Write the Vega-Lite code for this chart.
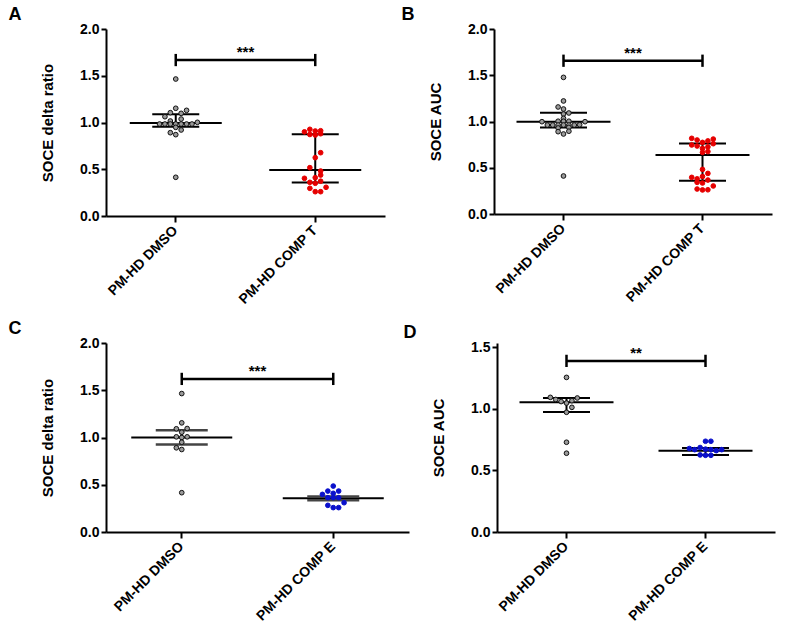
{
  "$schema": "https://vega.github.io/schema/vega-lite/v6.json",
  "background": "white",
  "padding": {"left": 8, "top": 6, "right": 5, "bottom": 5},
  "config": {
    "font": "Liberation Sans",
    "view": {"stroke": null},
    "axis": {
      "grid": false,
      "domainColor": "black",
      "domainWidth": 2,
      "tickColor": "black",
      "tickWidth": 2,
      "tickSize": 5,
      "labelColor": "black",
      "labelFont": "Liberation Sans",
      "labelFontWeight": "bold",
      "labelFontSize": 14,
      "labelPadding": 2,
      "titleColor": "black",
      "titleFont": "Liberation Sans",
      "titleFontWeight": "bold",
      "titleFontSize": 15,
      "titlePadding": 24
    },
    "axisX": {"labelAngle": -45, "labelAlign": "right", "labelBaseline": "middle", "tickSize": 6, "labelPadding": 6, "title": null},
    "title": {"anchor": "start", "frame": "bounds", "fontSize": 18, "fontWeight": "bold", "color": "black", "font": "Liberation Sans", "offset": -2}
  },
  "datasets": {
    "a_pts": [
      {"group": "PM-HD DMSO", "value": 1.465, "slot": 0},
      {"group": "PM-HD DMSO", "value": 1.152, "slot": 0},
      {"group": "PM-HD DMSO", "value": 1.130, "slot": 2},
      {"group": "PM-HD DMSO", "value": 1.105, "slot": -1},
      {"group": "PM-HD DMSO", "value": 1.098, "slot": 1},
      {"group": "PM-HD DMSO", "value": 1.062, "slot": -2},
      {"group": "PM-HD DMSO", "value": 1.037, "slot": 1},
      {"group": "PM-HD DMSO", "value": 1.016, "slot": -1},
      {"group": "PM-HD DMSO", "value": 0.984, "slot": -3},
      {"group": "PM-HD DMSO", "value": 0.984, "slot": -2},
      {"group": "PM-HD DMSO", "value": 0.984, "slot": -1},
      {"group": "PM-HD DMSO", "value": 0.984, "slot": 0},
      {"group": "PM-HD DMSO", "value": 0.984, "slot": 1},
      {"group": "PM-HD DMSO", "value": 0.984, "slot": 2},
      {"group": "PM-HD DMSO", "value": 0.984, "slot": 3},
      {"group": "PM-HD DMSO", "value": 1.002, "slot": 4},
      {"group": "PM-HD DMSO", "value": 0.948, "slot": 0},
      {"group": "PM-HD DMSO", "value": 0.920, "slot": 1},
      {"group": "PM-HD DMSO", "value": 0.891, "slot": -1},
      {"group": "PM-HD DMSO", "value": 0.870, "slot": 0},
      {"group": "PM-HD DMSO", "value": 0.414, "slot": 0},
      {"group": "PM-HD COMP T", "value": 0.900, "slot": -2},
      {"group": "PM-HD COMP T", "value": 0.927, "slot": -1},
      {"group": "PM-HD COMP T", "value": 0.909, "slot": 0},
      {"group": "PM-HD COMP T", "value": 0.912, "slot": 1},
      {"group": "PM-HD COMP T", "value": 0.872, "slot": -1},
      {"group": "PM-HD COMP T", "value": 0.866, "slot": 0},
      {"group": "PM-HD COMP T", "value": 0.880, "slot": 1},
      {"group": "PM-HD COMP T", "value": 0.677, "slot": 1},
      {"group": "PM-HD COMP T", "value": 0.624, "slot": 0},
      {"group": "PM-HD COMP T", "value": 0.517, "slot": -1},
      {"group": "PM-HD COMP T", "value": 0.481, "slot": 1},
      {"group": "PM-HD COMP T", "value": 0.438, "slot": 1},
      {"group": "PM-HD COMP T", "value": 0.403, "slot": -2},
      {"group": "PM-HD COMP T", "value": 0.410, "slot": 0},
      {"group": "PM-HD COMP T", "value": 0.360, "slot": -1},
      {"group": "PM-HD COMP T", "value": 0.350, "slot": 0},
      {"group": "PM-HD COMP T", "value": 0.372, "slot": 1},
      {"group": "PM-HD COMP T", "value": 0.296, "slot": -1},
      {"group": "PM-HD COMP T", "value": 0.307, "slot": 2},
      {"group": "PM-HD COMP T", "value": 0.260, "slot": 0},
      {"group": "PM-HD COMP T", "value": 0.260, "slot": 1}
    ],
    "a_bars": [
      {"group": "PM-HD DMSO", "center": 0.995, "lo": 0.955, "hi": 1.088},
      {"group": "PM-HD COMP T", "center": 0.492, "lo": 0.357, "hi": 0.873}
    ],
    "a_sig": [
      {"group": "PM-HD DMSO", "value": 1.668},
      {"group": "PM-HD COMP T", "value": 1.668}
    ],
    "a_star": [{"value": 1.668, "label": "***"}],
    "b_pts": [
      {"group": "PM-HD DMSO", "value": 1.477, "slot": 0},
      {"group": "PM-HD DMSO", "value": 1.222, "slot": 0},
      {"group": "PM-HD DMSO", "value": 1.157, "slot": -1},
      {"group": "PM-HD DMSO", "value": 1.135, "slot": 0},
      {"group": "PM-HD DMSO", "value": 1.092, "slot": 1},
      {"group": "PM-HD DMSO", "value": 1.081, "slot": 0},
      {"group": "PM-HD DMSO", "value": 1.034, "slot": 0},
      {"group": "PM-HD DMSO", "value": 0.998, "slot": -4},
      {"group": "PM-HD DMSO", "value": 1.003, "slot": -1},
      {"group": "PM-HD DMSO", "value": 1.003, "slot": 0},
      {"group": "PM-HD DMSO", "value": 1.003, "slot": 1},
      {"group": "PM-HD DMSO", "value": 0.998, "slot": 4},
      {"group": "PM-HD DMSO", "value": 0.962, "slot": -3},
      {"group": "PM-HD DMSO", "value": 0.962, "slot": -2},
      {"group": "PM-HD DMSO", "value": 0.962, "slot": -1},
      {"group": "PM-HD DMSO", "value": 0.962, "slot": 0},
      {"group": "PM-HD DMSO", "value": 0.962, "slot": 1},
      {"group": "PM-HD DMSO", "value": 0.962, "slot": 2},
      {"group": "PM-HD DMSO", "value": 0.965, "slot": 3},
      {"group": "PM-HD DMSO", "value": 0.930, "slot": -1},
      {"group": "PM-HD DMSO", "value": 0.936, "slot": 1},
      {"group": "PM-HD DMSO", "value": 0.890, "slot": -1},
      {"group": "PM-HD DMSO", "value": 0.895, "slot": 1},
      {"group": "PM-HD DMSO", "value": 0.865, "slot": 0},
      {"group": "PM-HD DMSO", "value": 0.411, "slot": 0},
      {"group": "PM-HD COMP T", "value": 0.818, "slot": -2},
      {"group": "PM-HD COMP T", "value": 0.800, "slot": -1},
      {"group": "PM-HD COMP T", "value": 0.774, "slot": 0},
      {"group": "PM-HD COMP T", "value": 0.790, "slot": 1},
      {"group": "PM-HD COMP T", "value": 0.810, "slot": 2},
      {"group": "PM-HD COMP T", "value": 0.746, "slot": -2},
      {"group": "PM-HD COMP T", "value": 0.735, "slot": -1},
      {"group": "PM-HD COMP T", "value": 0.709, "slot": 0},
      {"group": "PM-HD COMP T", "value": 0.725, "slot": 1},
      {"group": "PM-HD COMP T", "value": 0.760, "slot": 2},
      {"group": "PM-HD COMP T", "value": 0.666, "slot": 0},
      {"group": "PM-HD COMP T", "value": 0.675, "slot": 1},
      {"group": "PM-HD COMP T", "value": 0.482, "slot": 0},
      {"group": "PM-HD COMP T", "value": 0.439, "slot": 1},
      {"group": "PM-HD COMP T", "value": 0.396, "slot": -2},
      {"group": "PM-HD COMP T", "value": 0.380, "slot": -1},
      {"group": "PM-HD COMP T", "value": 0.405, "slot": 0},
      {"group": "PM-HD COMP T", "value": 0.367, "slot": 1},
      {"group": "PM-HD COMP T", "value": 0.342, "slot": -1},
      {"group": "PM-HD COMP T", "value": 0.335, "slot": 0},
      {"group": "PM-HD COMP T", "value": 0.303, "slot": 2},
      {"group": "PM-HD COMP T", "value": 0.270, "slot": -1},
      {"group": "PM-HD COMP T", "value": 0.260, "slot": 0},
      {"group": "PM-HD COMP T", "value": 0.262, "slot": 1}
    ],
    "b_bars": [
      {"group": "PM-HD DMSO", "center": 0.998, "lo": 0.936, "hi": 1.095},
      {"group": "PM-HD COMP T", "center": 0.638, "lo": 0.360, "hi": 0.763}
    ],
    "b_sig": [
      {"group": "PM-HD DMSO", "value": 1.657},
      {"group": "PM-HD COMP T", "value": 1.657}
    ],
    "b_star": [{"value": 1.657, "label": "***"}],
    "c_pts": [
      {"group": "PM-HD DMSO", "value": 1.465, "slot": 0},
      {"group": "PM-HD DMSO", "value": 1.155, "slot": 0},
      {"group": "PM-HD DMSO", "value": 1.092, "slot": -1},
      {"group": "PM-HD DMSO", "value": 1.095, "slot": 1},
      {"group": "PM-HD DMSO", "value": 1.056, "slot": 0},
      {"group": "PM-HD DMSO", "value": 1.007, "slot": -1},
      {"group": "PM-HD DMSO", "value": 1.000, "slot": 0},
      {"group": "PM-HD DMSO", "value": 1.007, "slot": 1},
      {"group": "PM-HD DMSO", "value": 0.950, "slot": 0},
      {"group": "PM-HD DMSO", "value": 0.891, "slot": -1},
      {"group": "PM-HD DMSO", "value": 0.873, "slot": 0},
      {"group": "PM-HD DMSO", "value": 0.416, "slot": 0},
      {"group": "PM-HD COMP E", "value": 0.486, "slot": 0},
      {"group": "PM-HD COMP E", "value": 0.433, "slot": -1},
      {"group": "PM-HD COMP E", "value": 0.433, "slot": 1},
      {"group": "PM-HD COMP E", "value": 0.409, "slot": 0},
      {"group": "PM-HD COMP E", "value": 0.398, "slot": -2},
      {"group": "PM-HD COMP E", "value": 0.363, "slot": -1},
      {"group": "PM-HD COMP E", "value": 0.363, "slot": 0},
      {"group": "PM-HD COMP E", "value": 0.363, "slot": 1},
      {"group": "PM-HD COMP E", "value": 0.310, "slot": 2},
      {"group": "PM-HD COMP E", "value": 0.282, "slot": -1},
      {"group": "PM-HD COMP E", "value": 0.258, "slot": 0},
      {"group": "PM-HD COMP E", "value": 0.258, "slot": 1}
    ],
    "c_bars": [
      {"group": "PM-HD DMSO", "center": 1.000, "lo": 0.926, "hi": 1.077},
      {"group": "PM-HD COMP E", "center": 0.356, "lo": 0.337, "hi": 0.375}
    ],
    "c_sig": [
      {"group": "PM-HD DMSO", "value": 1.620},
      {"group": "PM-HD COMP E", "value": 1.620}
    ],
    "c_star": [{"value": 1.620, "label": "***"}],
    "d_pts": [
      {"group": "PM-HD DMSO", "value": 1.254, "slot": 0},
      {"group": "PM-HD DMSO", "value": 1.092, "slot": -3},
      {"group": "PM-HD DMSO", "value": 1.075, "slot": -2},
      {"group": "PM-HD DMSO", "value": 1.058, "slot": -1},
      {"group": "PM-HD DMSO", "value": 1.046, "slot": 0},
      {"group": "PM-HD DMSO", "value": 1.065, "slot": 1},
      {"group": "PM-HD DMSO", "value": 1.087, "slot": 2},
      {"group": "PM-HD DMSO", "value": 1.011, "slot": 1},
      {"group": "PM-HD DMSO", "value": 0.971, "slot": 0},
      {"group": "PM-HD DMSO", "value": 0.728, "slot": 0},
      {"group": "PM-HD DMSO", "value": 0.639, "slot": 0},
      {"group": "PM-HD COMP E", "value": 0.736, "slot": 0},
      {"group": "PM-HD COMP E", "value": 0.736, "slot": 1},
      {"group": "PM-HD COMP E", "value": 0.677, "slot": -3},
      {"group": "PM-HD COMP E", "value": 0.668, "slot": -2},
      {"group": "PM-HD COMP E", "value": 0.685, "slot": -1},
      {"group": "PM-HD COMP E", "value": 0.672, "slot": 0},
      {"group": "PM-HD COMP E", "value": 0.668, "slot": 1},
      {"group": "PM-HD COMP E", "value": 0.660, "slot": 2},
      {"group": "PM-HD COMP E", "value": 0.668, "slot": 3},
      {"group": "PM-HD COMP E", "value": 0.625, "slot": -1},
      {"group": "PM-HD COMP E", "value": 0.622, "slot": 0},
      {"group": "PM-HD COMP E", "value": 0.622, "slot": 1}
    ],
    "d_bars": [
      {"group": "PM-HD DMSO", "center": 1.052, "lo": 0.973, "hi": 1.087},
      {"group": "PM-HD COMP E", "center": 0.660, "lo": 0.625, "hi": 0.682}
    ],
    "d_sig": [
      {"group": "PM-HD DMSO", "value": 1.388},
      {"group": "PM-HD COMP E", "value": 1.388}
    ],
    "d_star": [{"value": 1.388, "label": "**"}]
  },
  "vconcat": [
    {
      "hconcat": [
        {
          "width": 279, "height": 187,
          "title": {"text": "A", "dx": -32},
          "layer": [
            {"data": {"name": "a_bars"}, "mark": {"type": "rule", "color": "black", "strokeWidth": 2},
             "encoding": {
               "x": {"field": "group", "type": "nominal", "scale": {"type": "band", "paddingInner": 0, "paddingOuter": 0, "domain": ["PM-HD DMSO", "PM-HD COMP T"]}},
               "y": {"field": "lo", "type": "quantitative", "title": "SOCE delta ratio", "scale": {"domain": [0, 2], "nice": false}, "axis": {"values": [0, 0.5, 1, 1.5, 2], "format": ".1f"}},
               "y2": {"field": "hi"}}},
            {"data": {"name": "a_bars"}, "mark": {"type": "tick", "color": "black", "thickness": 2, "size": 92, "opacity": 1},
             "encoding": {"x": {"field": "group", "type": "nominal"}, "y": {"field": "center", "type": "quantitative", "title": "SOCE delta ratio"}}},
            {"data": {"name": "a_bars"}, "mark": {"type": "tick", "color": "black", "thickness": 2, "size": 47, "opacity": 1},
             "encoding": {"x": {"field": "group", "type": "nominal"}, "y": {"field": "lo", "type": "quantitative", "title": "SOCE delta ratio"}}},
            {"data": {"name": "a_bars"}, "mark": {"type": "tick", "color": "black", "thickness": 2, "size": 47, "opacity": 1},
             "encoding": {"x": {"field": "group", "type": "nominal"}, "y": {"field": "hi", "type": "quantitative", "title": "SOCE delta ratio"}}},
            {"data": {"name": "a_pts"}, "mark": {"type": "point", "filled": true, "size": 22, "strokeWidth": 1, "opacity": 1},
             "encoding": {
               "x": {"field": "group", "type": "nominal"},
               "xOffset": {"field": "slot", "type": "quantitative", "scale": {"domain": [-12.9, 12.9]}},
               "y": {"field": "value", "type": "quantitative", "title": "SOCE delta ratio"},
               "fill": {"field": "group", "type": "nominal", "legend": null, "scale": {"domain": ["PM-HD DMSO", "PM-HD COMP T", "PM-HD COMP E"], "range": ["#9a9a9a", "#e60000", "#0a10cc"]}},
               "stroke": {"field": "group", "type": "nominal", "legend": null, "scale": {"domain": ["PM-HD DMSO", "PM-HD COMP T", "PM-HD COMP E"], "range": ["#111111", "#e60000", "#0a10cc"]}}}},
            {"data": {"name": "a_sig"}, "mark": {"type": "line", "color": "black", "strokeWidth": 2.5},
             "encoding": {"x": {"field": "group", "type": "nominal"}, "y": {"field": "value", "type": "quantitative", "title": "SOCE delta ratio"}}},
            {"data": {"name": "a_sig"}, "mark": {"type": "point", "shape": "M0,-1L0,1", "size": 150, "filled": false, "stroke": "black", "strokeWidth": 2.5, "opacity": 1},
             "encoding": {"x": {"field": "group", "type": "nominal"}, "y": {"field": "value", "type": "quantitative", "title": "SOCE delta ratio"}}},
            {"data": {"name": "a_star"}, "mark": {"type": "text", "baseline": "bottom", "fontSize": 15, "fontWeight": "bold", "color": "black"},
             "encoding": {"y": {"field": "value", "type": "quantitative", "title": "SOCE delta ratio"}, "text": {"field": "label"}}}
          ]
        },
        {
          "width": 278, "height": 185,
          "title": {"text": "B", "dx": -27},
          "layer": [
            {"data": {"name": "b_bars"}, "mark": {"type": "rule", "color": "black", "strokeWidth": 2},
             "encoding": {
               "x": {"field": "group", "type": "nominal", "scale": {"type": "band", "paddingInner": 0, "paddingOuter": 0, "domain": ["PM-HD DMSO", "PM-HD COMP T"]}},
               "y": {"field": "lo", "type": "quantitative", "title": "SOCE AUC", "scale": {"domain": [0, 2], "nice": false}, "axis": {"values": [0, 0.5, 1, 1.5, 2], "format": ".1f"}},
               "y2": {"field": "hi"}}},
            {"data": {"name": "b_bars"}, "mark": {"type": "tick", "color": "black", "thickness": 2, "size": 94, "opacity": 1},
             "encoding": {"x": {"field": "group", "type": "nominal"}, "y": {"field": "center", "type": "quantitative", "title": "SOCE AUC"}}},
            {"data": {"name": "b_bars"}, "mark": {"type": "tick", "color": "black", "thickness": 2, "size": 47, "opacity": 1},
             "encoding": {"x": {"field": "group", "type": "nominal"}, "y": {"field": "lo", "type": "quantitative", "title": "SOCE AUC"}}},
            {"data": {"name": "b_bars"}, "mark": {"type": "tick", "color": "black", "thickness": 2, "size": 47, "opacity": 1},
             "encoding": {"x": {"field": "group", "type": "nominal"}, "y": {"field": "hi", "type": "quantitative", "title": "SOCE AUC"}}},
            {"data": {"name": "b_pts"}, "mark": {"type": "point", "filled": true, "size": 22, "strokeWidth": 1, "opacity": 1},
             "encoding": {
               "x": {"field": "group", "type": "nominal"},
               "xOffset": {"field": "slot", "type": "quantitative", "scale": {"domain": [-12.9, 12.9]}},
               "y": {"field": "value", "type": "quantitative", "title": "SOCE AUC"},
               "fill": {"field": "group", "type": "nominal", "legend": null, "scale": {"domain": ["PM-HD DMSO", "PM-HD COMP T", "PM-HD COMP E"], "range": ["#9a9a9a", "#e60000", "#0a10cc"]}},
               "stroke": {"field": "group", "type": "nominal", "legend": null, "scale": {"domain": ["PM-HD DMSO", "PM-HD COMP T", "PM-HD COMP E"], "range": ["#111111", "#e60000", "#0a10cc"]}}}},
            {"data": {"name": "b_sig"}, "mark": {"type": "line", "color": "black", "strokeWidth": 2.5},
             "encoding": {"x": {"field": "group", "type": "nominal"}, "y": {"field": "value", "type": "quantitative", "title": "SOCE AUC"}}},
            {"data": {"name": "b_sig"}, "mark": {"type": "point", "shape": "M0,-1L0,1", "size": 150, "filled": false, "stroke": "black", "strokeWidth": 2.5, "opacity": 1},
             "encoding": {"x": {"field": "group", "type": "nominal"}, "y": {"field": "value", "type": "quantitative", "title": "SOCE AUC"}}},
            {"data": {"name": "b_star"}, "mark": {"type": "text", "baseline": "bottom", "fontSize": 15, "fontWeight": "bold", "color": "black"},
             "encoding": {"y": {"field": "value", "type": "quantitative", "title": "SOCE AUC"}, "text": {"field": "label"}}}
          ]
        }
      ],
      "spacing": 16,
      "resolve": {"scale": {"xOffset": "independent"}}
    },
    {
      "hconcat": [
        {
          "width": 303, "height": 189,
          "title": {"text": "C", "dx": -32},
          "layer": [
            {"data": {"name": "c_bars"}, "mark": {"type": "rule", "color": "black", "strokeWidth": 2},
             "encoding": {
               "x": {"field": "group", "type": "nominal", "scale": {"type": "band", "paddingInner": 0, "paddingOuter": 0, "domain": ["PM-HD DMSO", "PM-HD COMP E"]}},
               "y": {"field": "lo", "type": "quantitative", "title": "SOCE delta ratio", "scale": {"domain": [0, 2], "nice": false}, "axis": {"values": [0, 0.5, 1, 1.5, 2], "format": ".1f"}},
               "y2": {"field": "hi"}}},
            {"data": {"name": "c_bars"}, "mark": {"type": "tick", "color": "black", "thickness": 2, "size": 101, "opacity": 1},
             "encoding": {"x": {"field": "group", "type": "nominal"}, "y": {"field": "center", "type": "quantitative", "title": "SOCE delta ratio"}}},
            {"data": {"name": "c_bars"}, "mark": {"type": "tick", "color": "#444444", "thickness": 2.5, "size": 52, "opacity": 1},
             "encoding": {"x": {"field": "group", "type": "nominal"}, "y": {"field": "lo", "type": "quantitative", "title": "SOCE delta ratio"}}},
            {"data": {"name": "c_bars"}, "mark": {"type": "tick", "color": "#444444", "thickness": 2.5, "size": 52, "opacity": 1},
             "encoding": {"x": {"field": "group", "type": "nominal"}, "y": {"field": "hi", "type": "quantitative", "title": "SOCE delta ratio"}}},
            {"data": {"name": "c_pts"}, "mark": {"type": "point", "filled": true, "size": 22, "strokeWidth": 1, "opacity": 1},
             "encoding": {
               "x": {"field": "group", "type": "nominal"},
               "xOffset": {"field": "slot", "type": "quantitative", "scale": {"domain": [-14, 14]}},
               "y": {"field": "value", "type": "quantitative", "title": "SOCE delta ratio"},
               "fill": {"field": "group", "type": "nominal", "legend": null, "scale": {"domain": ["PM-HD DMSO", "PM-HD COMP T", "PM-HD COMP E"], "range": ["#9a9a9a", "#e60000", "#0a10cc"]}},
               "stroke": {"field": "group", "type": "nominal", "legend": null, "scale": {"domain": ["PM-HD DMSO", "PM-HD COMP T", "PM-HD COMP E"], "range": ["#111111", "#e60000", "#0a10cc"]}}}},
            {"data": {"name": "c_sig"}, "mark": {"type": "line", "color": "black", "strokeWidth": 2.5},
             "encoding": {"x": {"field": "group", "type": "nominal"}, "y": {"field": "value", "type": "quantitative", "title": "SOCE delta ratio"}}},
            {"data": {"name": "c_sig"}, "mark": {"type": "point", "shape": "M0,-1L0,1", "size": 150, "filled": false, "stroke": "black", "strokeWidth": 2.5, "opacity": 1},
             "encoding": {"x": {"field": "group", "type": "nominal"}, "y": {"field": "value", "type": "quantitative", "title": "SOCE delta ratio"}}},
            {"data": {"name": "c_star"}, "mark": {"type": "text", "baseline": "bottom", "fontSize": 15, "fontWeight": "bold", "color": "black"},
             "encoding": {"y": {"field": "value", "type": "quantitative", "title": "SOCE delta ratio"}, "text": {"field": "label"}}}
          ]
        },
        {
          "width": 278, "height": 189,
          "title": {"text": "D", "dx": -28},
          "layer": [
            {"data": {"name": "d_bars"}, "mark": {"type": "rule", "color": "black", "strokeWidth": 2},
             "encoding": {
               "x": {"field": "group", "type": "nominal", "scale": {"type": "band", "paddingInner": 0, "paddingOuter": 0, "domain": ["PM-HD DMSO", "PM-HD COMP E"]}},
               "y": {"field": "lo", "type": "quantitative", "title": "SOCE AUC", "scale": {"domain": [0, 1.533], "nice": false}, "axis": {"values": [0, 0.5, 1, 1.5], "format": ".1f"}},
               "y2": {"field": "hi"}}},
            {"data": {"name": "d_bars"}, "mark": {"type": "tick", "color": "black", "thickness": 2, "size": 94, "opacity": 1},
             "encoding": {"x": {"field": "group", "type": "nominal"}, "y": {"field": "center", "type": "quantitative", "title": "SOCE AUC"}}},
            {"data": {"name": "d_bars"}, "mark": {"type": "tick", "color": "black", "thickness": 2, "size": 47, "opacity": 1},
             "encoding": {"x": {"field": "group", "type": "nominal"}, "y": {"field": "lo", "type": "quantitative", "title": "SOCE AUC"}}},
            {"data": {"name": "d_bars"}, "mark": {"type": "tick", "color": "black", "thickness": 2, "size": 47, "opacity": 1},
             "encoding": {"x": {"field": "group", "type": "nominal"}, "y": {"field": "hi", "type": "quantitative", "title": "SOCE AUC"}}},
            {"data": {"name": "d_pts"}, "mark": {"type": "point", "filled": true, "size": 22, "strokeWidth": 1, "opacity": 1},
             "encoding": {
               "x": {"field": "group", "type": "nominal"},
               "xOffset": {"field": "slot", "type": "quantitative", "scale": {"domain": [-12.9, 12.9]}},
               "y": {"field": "value", "type": "quantitative", "title": "SOCE AUC"},
               "fill": {"field": "group", "type": "nominal", "legend": null, "scale": {"domain": ["PM-HD DMSO", "PM-HD COMP T", "PM-HD COMP E"], "range": ["#9a9a9a", "#e60000", "#0a10cc"]}},
               "stroke": {"field": "group", "type": "nominal", "legend": null, "scale": {"domain": ["PM-HD DMSO", "PM-HD COMP T", "PM-HD COMP E"], "range": ["#111111", "#e60000", "#0a10cc"]}}}},
            {"data": {"name": "d_sig"}, "mark": {"type": "line", "color": "black", "strokeWidth": 2.5},
             "encoding": {"x": {"field": "group", "type": "nominal"}, "y": {"field": "value", "type": "quantitative", "title": "SOCE AUC"}}},
            {"data": {"name": "d_sig"}, "mark": {"type": "point", "shape": "M0,-1L0,1", "size": 150, "filled": false, "stroke": "black", "strokeWidth": 2.5, "opacity": 1},
             "encoding": {"x": {"field": "group", "type": "nominal"}, "y": {"field": "value", "type": "quantitative", "title": "SOCE AUC"}}},
            {"data": {"name": "d_star"}, "mark": {"type": "text", "baseline": "bottom", "fontSize": 15, "fontWeight": "bold", "color": "black"},
             "encoding": {"y": {"field": "value", "type": "quantitative", "title": "SOCE AUC"}, "text": {"field": "label"}}}
          ]
        }
      ],
      "spacing": -6,
      "resolve": {"scale": {"xOffset": "independent"}}
    }
  ],
  "spacing": 13,
  "resolve": {"scale": {"xOffset": "independent"}}
}
